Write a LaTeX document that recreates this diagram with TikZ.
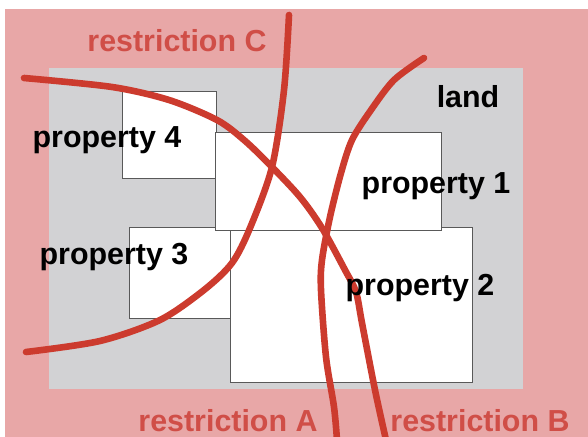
\documentclass[tikz,border=0pt]{standalone}
\usepackage{fontspec}
\setmainfont{Liberation Sans}
\definecolor{landpink}{HTML}{E8A7A7}
\definecolor{landgray}{HTML}{D2D2D4}
\definecolor{restrred}{HTML}{CC3B2E}
\definecolor{labelred}{HTML}{D04E47}
\begin{document}
\begin{tikzpicture}[x=0.5pt, y=-0.5pt,
	property/.style={fill=white, draw=black!65, line width=0.5pt},
	restriction/.style={restrred, line width=3.3pt, line cap=round},
	proplabel/.style={font=\bfseries\fontsize{15.2}{17}\selectfont, inner sep=0pt},
	restrlabel/.style={proplabel, text=labelred}]
			\useasboundingbox (0,0) rectangle (588,437);
			\fill[fill=landpink, draw=none] (5,9) rectangle (588,437);
			\fill[fill=landgray, draw=none] (49,68) rectangle (523,389);

			\draw[property] (122,92) rectangle (216,179);
			\draw[property] (129,228) rectangle (230,319);
			\draw[property] (230,228) rectangle (472,383);
			\draw[property] (215,133) rectangle (441,231);


			\draw[restriction] plot[smooth] coordinates {(289,15) (284,90) (272,167) (250,228) (232,263) (204,290) (160,320) (100,341) (26,352)};

			\draw[restriction] plot[smooth] coordinates {(424,58) (394,80) (371,110) (352,140) (341,173) (330,217) (322,260) (321,290) (326,357) (334,407) (337,440)};

			\draw[restriction] plot[smooth] coordinates {(24,78) (112,87) (169,100) (217,120) (244,140) (270,165) (300,197) (322,228) (345,270) (356,292) (362,323) (375,390) (386,440)};


			\draw (468,97) node (land) [proplabel] {land};
			\draw (107,140) node (prop4) [proplabel] {property 4};
			\draw (436,186) node (prop1) [proplabel] {property 1};
			\draw (114,257) node (prop3) [proplabel] {property 3};
			\draw (420,288) node (prop2) [proplabel] {property 2};

			\draw (177,41) node (restrC) [restrlabel] {restriction C};
			\draw (228,421) node (restrA) [restrlabel] {restriction A};
			\draw (480,421) node (restrB) [restrlabel] {restriction B};
\end{tikzpicture}
\end{document}
